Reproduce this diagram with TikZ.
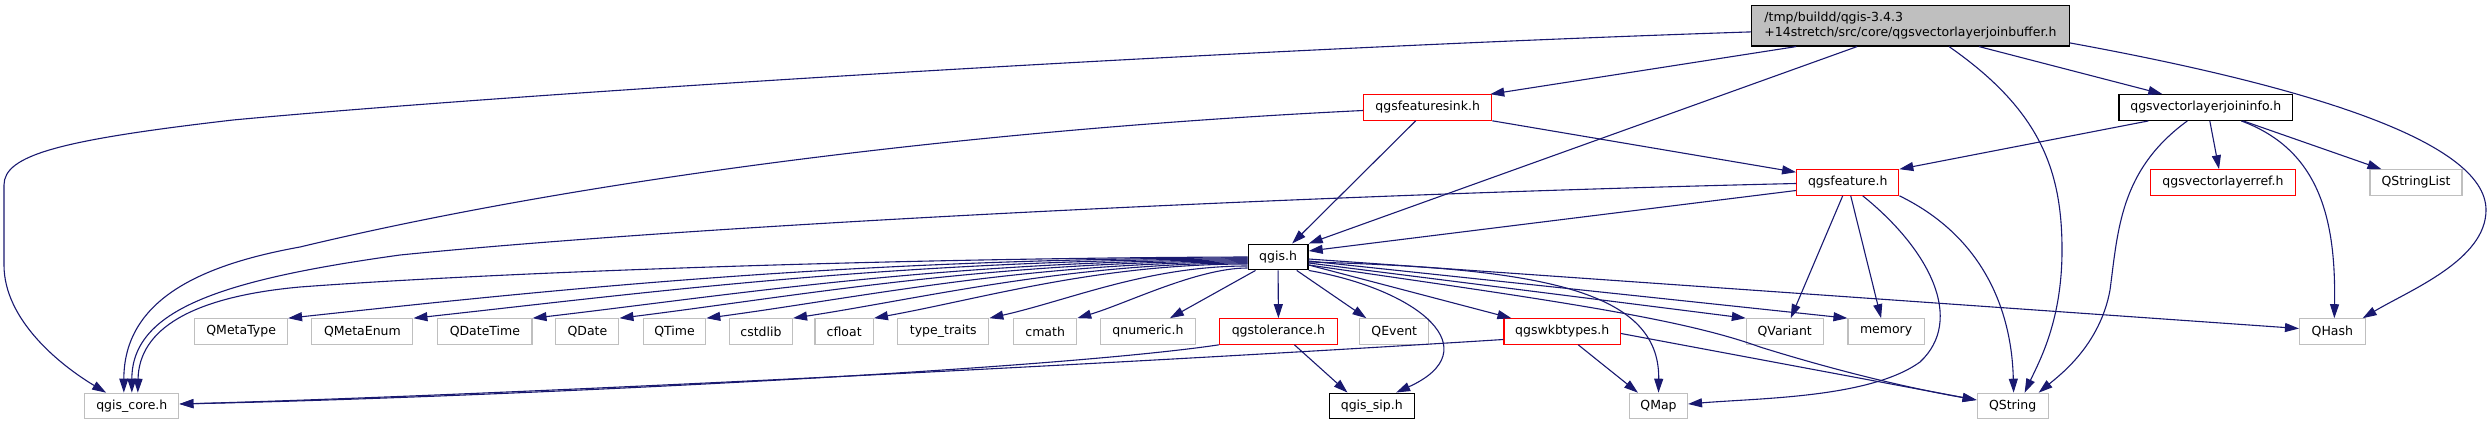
\documentclass[tikz,border=0pt]{standalone}
\usepackage{fontspec}
\setmainfont{DejaVu Sans}
\usetikzlibrary{arrows.meta,calc}
\definecolor{edgeblue}{HTML}{191970}
\definecolor{hdrgray}{HTML}{BFBFBF}
\definecolor{extgray}{HTML}{BFBFBF}
\definecolor{truncred}{HTML}{FF0000}
\tikzset{
    >={Triangle[length=14pt,width=9pt]},
    file/.style={
        rectangle,
        draw,
        line width=1.1pt,
        fill=white,
        minimum height=25.5pt,
        inner sep=2pt,
        font=\fontsize{12.5}{15}\selectfont
    },
    hdrfile/.style={file, fill=hdrgray, draw=black, align=left, minimum height=40.3pt},
    docfile/.style={file, draw=black, line width=1.4pt},
    truncfile/.style={file, draw=truncred},
    extfile/.style={file, draw=extgray},
    dep/.style={->, draw=edgeblue, line width=1.1pt}
}
\begin{document}
\begin{tikzpicture}[x=1pt, y=-1pt]
\useasboundingbox (0,0) rectangle (2491,425);

% files
\node[hdrfile, minimum width=317.6pt] (top) at (1910.4,25.9)
    {/tmp/buildd/qgis-3.4.3\\+14stretch/src/core/qgsvectorlayerjoinbuffer.h};

\node[truncfile, minimum width=128pt]   (fsink)       at (1427.7,107.5) {qgsfeaturesink.h};
\node[docfile,   minimum width=173.6pt] (joininfo)    at (2205.8,107.5) {qgsvectorlayerjoininfo.h};

\node[truncfile, minimum width=102.2pt] (feature)     at (1847.7,182.5) {qgsfeature.h};
\node[truncfile, minimum width=144.6pt] (layerref)    at (2223,182.5)   {qgsvectorlayerref.h};
\node[extfile,   minimum width=92pt]    (qstringlist) at (2416,182.5)   {QStringList};

\node[docfile,   minimum width=59.8pt]  (qgis)        at (1278.1,257)   {qgis.h};

\node[extfile,   minimum width=92.7pt]  (qmetatype)   at (241.2,331.5)  {QMetaType};
\node[extfile,   minimum width=101pt]   (qmetaenum)   at (362.4,331.5)  {QMetaEnum};
\node[extfile,   minimum width=94.2pt]  (qdatetime)   at (484.9,331.5)  {QDateTime};
\node[extfile,   minimum width=63pt]    (qdate)       at (587.4,331.5)  {QDate};
\node[extfile,   minimum width=62.5pt]  (qtime)       at (674.5,331.5)  {QTime};
\node[extfile,   minimum width=63pt]    (cstdlib)     at (761,331.5)    {cstdlib};
\node[extfile,   minimum width=58.4pt]  (cfloat)      at (844.2,331.5)  {cfloat};
\node[extfile,   minimum width=91pt]    (typetraits)  at (943.3,331.5)  {type\_traits};
\node[extfile,   minimum width=63pt]    (cmath)       at (1045.2,331.5) {cmath};
\node[extfile,   minimum width=94.8pt]  (qnumeric)    at (1147.9,331.5) {qnumeric.h};
\node[truncfile, minimum width=117.5pt] (tolerance)   at (1278.4,331.5) {qgstolerance.h};
\node[extfile,   minimum width=68.8pt]  (qevent)      at (1394.3,331.5) {QEvent};
\node[truncfile, minimum width=116.5pt] (wkbtypes)    at (1562.2,331.5) {qgswkbtypes.h};
\node[extfile,   minimum width=76.7pt]  (qvariant)    at (1784.7,331.5) {QVariant};
\node[extfile,   minimum width=76.2pt]  (memory)      at (1886.1,331.5) {memory};
\node[extfile,   minimum width=65.6pt]  (qhash)       at (2332.3,331.5) {QHash};

\node[extfile,   minimum width=94.2pt]  (qgiscore)    at (131.8,406)    {qgis\_core.h};
\node[docfile,   minimum width=85.2pt]  (qgissip)     at (1371.8,406)   {qgis\_sip.h};
\node[extfile,   minimum width=58pt]    (qmap)        at (1658.5,406)   {QMap};
\node[extfile,   minimum width=71pt]    (qstring)     at (2012.6,406)   {QString};

% includes of the header
\draw[dep] ($(top.west)+(0,6)$) .. controls (1200,50) and (500,95) .. (233,120)
    .. controls (60,140) and (4,155) .. (4,185) -- (4,265)
    .. controls (4,320) and (60,365) .. ($(qgiscore.north west)+(22,0)$);
\draw[dep] ($(top.south west)+(45,0)$) -- ($(fsink.north east)+(-2,0)$);
\draw[dep] ($(top.south west)+(106,0)$) -- (qgis.north east);
\draw[dep] ($(top.south west)+(198,0)$) .. controls (2040,110) and (2062,170) .. (2062,250)
    .. controls (2062,320) and (2040,360) .. ($(qstring.north)+(12,0)$);
\draw[dep] ($(top.south west)+(228,0)$) -- ($(joininfo.north west)+(44,0)$);
\draw[dep] ($(top.east)+(0,17)$) .. controls (2300,85) and (2486,140) .. (2486,210)
    .. controls (2486,260) and (2410,290) .. ($(qhash.north east)+(-3,0)$);

% qgsfeaturesink.h
\draw[dep] ($(fsink.south)+(-12,0)$) -- ($(qgis.north)+(14,0)$);
\draw[dep] (fsink.south east) -- ($(feature.north west)+(0,3)$);
\draw[dep] ($(fsink.west)+(0,3)$) .. controls (1000,128) and (600,175) .. (300,247)
    .. controls (200,265) and (124,300) .. ($(qgiscore.north)+(-8,0)$);

% qgsvectorlayerjoininfo.h
\draw[dep] ($(joininfo.south west)+(30,0)$) -- (feature.north east);
\draw[dep] ($(joininfo.south west)+(69,0)$) .. controls (2120,170) and (2118,230) .. (2110,290)
    .. controls (2100,345) and (2060,375) .. ($(qstring.north east)+(-10,0)$);
\draw[dep] ($(joininfo.south)+(4,0)$) -- ($(layerref.north)+(-4,0)$);
\draw[dep] ($(joininfo.south east)+(-52,0)$) .. controls (2320,150) and (2336,220) .. ($(qhash.north)+(2,0)$);
\draw[dep] ($(joininfo.south east)+(-50,0)$) -- ($(qstringlist.north west)+(12,0)$);

% qgsfeature.h
\draw[dep] ($(feature.west)+(0,1)$) .. controls (1300,195) and (700,225) .. (400,255)
    .. controls (220,280) and (132,310) .. (qgiscore.north);
\draw[dep] ($(feature.west)+(0,8)$) -- ($(qgis.east)+(0,-6)$);
\draw[dep] ($(feature.south)+(-5,0)$) -- ($(qvariant.north)+(6,0)$);
\draw[dep] ($(feature.south)+(3,0)$) -- ($(memory.north)+(-5,0)$);
\draw[dep] ($(feature.south)+(15,0)$) .. controls (1930,250) and (1965,320) .. (1920,362)
    .. controls (1870,398) and (1760,398) .. ($(qmap.east)+(0,-2)$);
\draw[dep] (feature.south east) .. controls (1990,240) and (2012,320) .. ($(qstring.north)+(1,0)$);

% qgis.h
\draw[dep] (qgis.west) .. controls (900,258) and (500,272) .. (300,287)
    .. controls (190,297) and (139,330) .. ($(qgiscore.north)+(6,0)$);
\foreach \tgt/\sy/\ca/\cb/\cc in {qmetatype/1/400/250/27, qmetaenum/2/350/220/24,
        qdatetime/3/300/190/22, qdate/4/260/170/21, qtime/5/220/150/20,
        cstdlib/6/180/130/20, cfloat/7/150/110/20, typetraits/9/100/80/18,
        cmath/11/50/50/15}
    \draw[dep] ($(qgis.west)+(0,\sy)$) .. controls +(-\ca,0) and +(\cb,-\cc) .. (\tgt.north east);
\draw[dep] ($(qgis.south west)+(8,0)$) -- ($(qnumeric.north east)+(-26,0)$);
\draw[dep] (qgis.south) -- (tolerance.north);
\draw[dep] ($(qgis.south east)+(-12,0)$) -- ($(qevent.north west)+(7,0)$);
\draw[dep] ($(qgis.east)+(0,8)$) -- ($(wkbtypes.north west)+(8,0)$);
\draw[dep] (qgis.south east) .. controls (1420,290) and (1490,350) .. ($(qgissip.north east)+(-19,0)$);
\draw[dep] ($(qgis.east)+(0,5)$) .. controls (1540,268) and (1660,290) .. (qmap.north);
\draw[dep] ($(qgis.east)+(0,6)$) -- (qvariant.north west);
\draw[dep] ($(qgis.east)+(0,4)$) -- (memory.north west);
\draw[dep] ($(qgis.east)+(0,2)$) -- ($(qhash.west)+(0,-3)$);
\draw[dep] ($(qgis.east)+(0,8)$) .. controls (1550,300) and (1680,318) .. (1760,347)
    .. controls (1850,375) and (1920,390) .. ($(qstring.west)+(0,-6)$);

% qgstolerance.h and qgswkbtypes.h
\draw[dep] (tolerance.south west) .. controls (1050,370) and (500,397) .. ($(qgiscore.east)+(0,-2)$);
\draw[dep] ($(tolerance.south)+(16,0)$) -- ($(qgissip.north west)+(19,0)$);
\draw[dep] ($(wkbtypes.west)+(0,8)$) .. controls (1100,365) and (500,395) .. ($(qgiscore.east)+(0,-2)$);
\draw[dep] ($(wkbtypes.south)+(16,0)$) -- ($(qmap.north west)+(9,0)$);
\draw[dep] ($(wkbtypes.east)+(0,2)$) -- ($(qstring.west)+(0,-6)$);

\end{tikzpicture}
\end{document}
